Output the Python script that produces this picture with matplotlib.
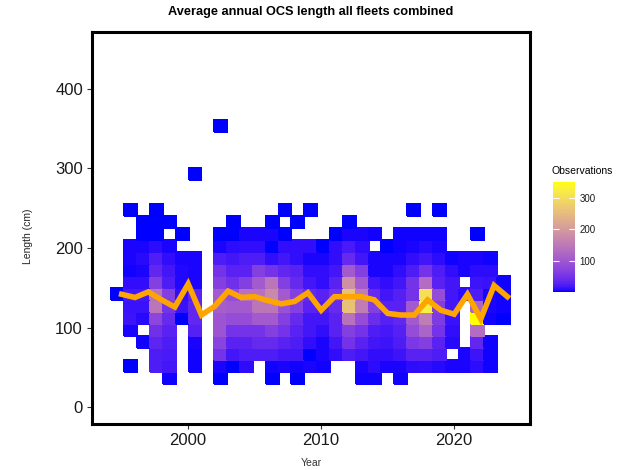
import numpy as np
import matplotlib
matplotlib.use("Agg")
import matplotlib.pyplot as plt
from matplotlib.colors import ListedColormap, Normalize

plt.rcParams["font.family"] = ["Liberation Sans", "DejaVu Sans"]

# ---------------- data ----------------
years = list(range(1995, 2025))
mean_length = [142, 138, 145, 135, 126, 155, 116, 127, 146, 138, 139, 134, 130, 133, 144,
               122, 139, 139, 139, 135, 118, 116, 116, 135, 122, 117, 142, 111, 153, 139]

length_bin_low = list(range(30, 360, 15))   # lower edges of 15 cm length bins (30 ... 345)
length_bin_width = 15

# observations per length bin (bottom bin = 30 cm first) for each year
counts_by_year = {
    1995: [0, 0, 0, 0, 0, 0, 0, 3, 0, 0, 0, 0, 0, 0, 0],
    1996: [0, 3, 0, 0, 5, 15, 13, 17, 11, 4, 6, 5, 0, 0, 2],
    1997: [0, 0, 0, 4, 0, 8, 13, 17, 11, 6, 8, 6, 3, 3, 0],
    1998: [0, 23, 23, 32, 46, 75, 145, 138, 65, 35, 25, 9, 3, 3, 2],
    1999: [4, 17, 21, 23, 30, 38, 50, 65, 23, 17, 11, 6, 0, 3, 0],
    2000: [0, 0, 0, 0, 0, 3, 13, 11, 7, 7, 6, 0, 3, 0, 0],
    2001: [0, 4, 4, 5, 27, 35, 35, 30, 6, 5, 5, 0, 0, 0, 0, 0, 0, 2],
    2002: [3, 6, 50, 70, 95, 95, 110, 105, 65, 50, 23, 6, 3, 0, 0, 0, 0, 0, 0, 0, 0, 2],
    2003: [0, 3, 17, 30, 50, 85, 105, 85, 46, 30, 17, 9, 3, 3, 0],
    2004: [0, 9, 23, 30, 50, 85, 105, 138, 65, 30, 23, 11, 6, 0, 0],
    2005: [0, 0, 23, 38, 50, 105, 145, 138, 105, 65, 23, 11, 6, 0, 0],
    2006: [3, 4, 23, 38, 65, 105, 145, 175, 145, 50, 11, 3, 6, 3, 0],
    2007: [0, 6, 17, 30, 50, 65, 90, 105, 65, 35, 17, 11, 3, 0, 3],
    2008: [3, 4, 17, 23, 30, 38, 65, 65, 38, 30, 11, 11, 0, 3, 0],
    2009: [0, 6, 3, 11, 17, 17, 30, 38, 17, 11, 6, 11, 0, 0, 3],
    2010: [0, 4, 6, 6, 11, 17, 23, 30, 11, 11, 6, 3, 0, 0, 0],
    2011: [0, 0, 11, 17, 30, 30, 38, 50, 30, 17, 11, 11, 3, 0, 0],
    2012: [0, 0, 23, 50, 65, 138, 260, 260, 185, 105, 38, 21, 6, 3, 0],
    2013: [4, 6, 17, 30, 50, 85, 155, 155, 105, 65, 17, 11, 6, 0, 0],
    2014: [4, 9, 11, 17, 23, 42, 65, 38, 17, 6, 6, 0, 4, 0, 0],
    2015: [0, 6, 11, 15, 19, 27, 30, 17, 11, 6, 6, 3, 0, 0, 0],
    2016: [4, 6, 15, 23, 27, 35, 30, 27, 17, 11, 6, 4, 4, 0, 0],
    2017: [0, 9, 30, 56, 85, 105, 105, 50, 50, 23, 11, 6, 4, 0, 3],
    2018: [0, 11, 30, 65, 118, 155, 325, 305, 130, 50, 17, 8, 4, 0, 0],
    2019: [0, 8, 23, 30, 50, 60, 65, 85, 30, 23, 9, 6, 4, 0, 3],
    2020: [0, 6, 0, 8, 11, 13, 17, 17, 17, 11, 4, 0, 0, 0, 0],
    2021: [0, 6, 6, 0, 0, 0, 0, 9, 0, 6, 6, 0, 0, 0, 0],
    2022: [0, 9, 15, 35, 130, 350, 120, 23, 15, 9, 6, 0, 3, 0, 0],
    2023: [0, 4, 4, 4, 0, 4, 6, 6, 13, 9, 4, 0, 0, 0, 0],
    2024: [0, 0, 0, 0, 0, 3, 4, 4, 4, 0, 0, 0, 0, 0, 0],
}

colorbar_ticks = [100, 200, 300]
x_ticks = [2000, 2010, 2020]
y_ticks = [0, 100, 200, 300, 400]


# ---------------- colour scale: blue -> yellow interpolated in CIELAB ----------------
WHITE = np.array([0.95047, 1.0, 1.08883])
M = np.array([[0.4124564, 0.3575761, 0.1804375],
              [0.2126729, 0.7151522, 0.0721750],
              [0.0193339, 0.1191920, 0.9503041]])
Minv = np.linalg.inv(M)


def srgb_to_lab(rgb):
    rgb = np.asarray(rgb, float)
    lin = np.where(rgb <= 0.04045, rgb / 12.92, ((rgb + 0.055) / 1.055) ** 2.4)
    xyz = M @ lin / WHITE
    d = 6 / 29
    f = np.where(xyz > d ** 3, np.cbrt(xyz), xyz / (3 * d * d) + 4 / 29)
    return np.array([116 * f[1] - 16, 500 * (f[0] - f[1]), 200 * (f[1] - f[2])])


def lab_to_srgb(lab):
    L, a, b = lab
    fy = (L + 16) / 116
    fx = fy + a / 500
    fz = fy - b / 200
    d = 6 / 29
    f = np.array([fx, fy, fz])
    xyz = np.where(f > d, f ** 3, 3 * d * d * (f - 4 / 29)) * WHITE
    lin = np.clip(Minv @ xyz, 0, 1)
    rgb = np.where(lin <= 0.0031308, 12.92 * lin, 1.055 * lin ** (1 / 2.4) - 0.055)
    return np.clip(rgb, 0, 1)


lab_lo = srgb_to_lab([0, 0, 1])
lab_hi = srgb_to_lab([1, 1, 0])
cmap = ListedColormap([lab_to_srgb(lab_lo + t * (lab_hi - lab_lo)) for t in np.linspace(0, 1, 256)])

# ---------------- binning (as ggplot's geom_bin2d with 30 bins on x) ----------------
yr = np.array(years, float)
bw = (yr.max() - yr.min()) / 30
origin = np.floor(yr.min() / bw) * bw
x_edges = origin + bw * np.arange(32)
col_index = np.searchsorted(x_edges + 1e-7 * bw, yr, side="left") - 1

n_rows = len(length_bin_low)
y_edges = np.array(length_bin_low + [length_bin_low[-1] + length_bin_width], float)
grid = np.full((n_rows, len(x_edges) - 1), np.nan)
for y, ci in zip(years, col_index):
    for r, c in enumerate(counts_by_year[y]):
        if c > 0:
            grid[r, ci] = c

all_counts = [c for v in counts_by_year.values() for c in v if c > 0]
norm = Normalize(vmin=min(all_counts), vmax=max(all_counts))

# ---------------- figure ----------------
fig = plt.figure(figsize=(6.33, 4.70), dpi=100)
ax = fig.add_axes([92 / 633, 1 - 424 / 470, (530 - 92) / 633, (424 - 32) / 470])

mesh = ax.pcolormesh(x_edges, y_edges, np.ma.masked_invalid(grid), cmap=cmap, norm=norm,
                     edgecolors="face", linewidth=0.2)
ax.plot(years, mean_length, color="#FFA500", lw=4.0, solid_joinstyle="miter", zorder=3)

ax.set_xlim(1992.77, 2025.7)
ax.set_ylim(-20.7, 471)
ax.set_xticks(x_ticks)
ax.set_yticks(y_ticks)
ax.tick_params(axis="both", labelsize=12, colors="#333333", length=3.5, width=0.8, pad=3)
ax.tick_params(axis="both", labelcolor="#1a1a1a")
for side, s in ax.spines.items():
    s.set_color("black")
    s.set_linewidth(2.2)

fig.text(311 / 633, 1 - 12 / 470, "Average annual OCS length all fleets combined",
         ha="center", va="center", fontsize=9.2, fontweight="bold")
fig.text(311 / 633, 1 - 463 / 470, "Year", ha="center", va="center", fontsize=7.5, color="#333333")
fig.text(28 / 633, 1 - 236 / 470, "Length (cm)", ha="center", va="center", rotation=90,
         fontsize=7.5, color="#222222")

# colour bar
cax = fig.add_axes([553 / 633, 1 - 291.7 / 470, 22.3 / 633, 110 / 470])
cb = fig.colorbar(mesh, cax=cax, ticks=colorbar_ticks)
cb.outline.set_visible(False)
cax.tick_params(which="both", direction="in", color="white", length=4.5, width=0.8,
                left=True, right=True, labelsize=7, labelcolor="#1a1a1a", pad=3)
fig.text(552 / 633, 1 - 171 / 470, "Observations", ha="left", va="center", fontsize=7.5)

fig.savefig("out.png", dpi=100)
